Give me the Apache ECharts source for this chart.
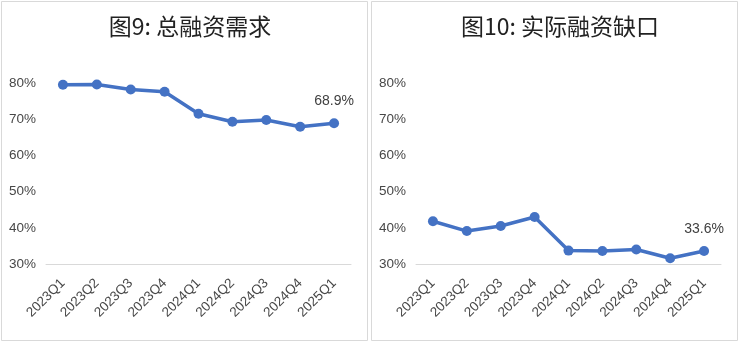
<!DOCTYPE html>
<html>
<head>
<meta charset="utf-8">
<script src="https://cdn.jsdelivr.net/npm/echarts@6/dist/echarts.min.js"></script>
<style>
  html, body { margin: 0; padding: 0; background: #fff; }
  #chart { width: 740px; height: 342px; }
</style>
</head>
<body>
<div id="chart"></div>
<script>
// Quarterly categories shared by both panels
const quarters = ['2023Q1', '2023Q2', '2023Q3', '2023Q4', '2024Q1', '2024Q2', '2024Q3', '2024Q4', '2025Q1'];
// Total financing demand (%)
const totalDemand = [79.5, 79.6, 78.2, 77.6, 71.5, 69.3, 69.8, 67.9, 68.9];
// Actual financing gap (%)
const financingGap = [41.8, 39.1, 40.5, 43.0, 33.7, 33.6, 34.0, 31.6, 33.6];
const titles = ['图9: 总融资需求', '图10: 实际融资缺口'];
const yMin = 30, yMax = 80, yStep = 10;

const blue = '#4472C4';
const labelColor = '#474747';
const cjkFont = '"Noto Sans CJK SC", sans-serif';
const numFont = '"Liberation Sans", sans-serif';

const chart = echarts.init(document.getElementById('chart'));

function yAxis(gridIndex) {
  return {
    gridIndex, type: 'value', min: yMin, max: yMax, interval: yStep,
    axisLine: { show: false }, axisTick: { show: false },
    splitLine: { show: false },
    axisLabel: { formatter: '{value}%', color: labelColor, fontSize: 13.5, margin: 10, fontFamily: numFont }
  };
}
function xAxis(gridIndex) {
  return {
    gridIndex, type: 'category', data: quarters, boundaryGap: true,
    axisLine: { show: true, lineStyle: { color: '#D9D9D9', width: 1 } },
    axisTick: { show: false },
    axisLabel: { rotate: 45, color: labelColor, fontSize: 13.5, margin: 17, fontFamily: numFont, interval: 0 }
  };
}
function series(idx, data) {
  return {
    type: 'line', xAxisIndex: idx, yAxisIndex: idx, data,
    symbol: 'circle', symbolSize: 10,
    lineStyle: { color: blue, width: 3.5 },
    itemStyle: { color: blue },
    label: {
      show: true, position: 'top', distance: 10, color: '#404040', fontSize: 14, fontFamily: numFont,
      formatter: p => p.dataIndex === data.length - 1 ? p.value.toFixed(1) + '%' : ''
    }
  };
}

chart.setOption({
  animation: false,
  backgroundColor: '#fff',
  title: titles.map((t, i) => ({
    text: t, left: 185 + i * 370, top: 10, textAlign: 'center',
    textStyle: { fontSize: 23, fontWeight: 'normal', color: '#222', fontFamily: cjkFont }
  })),
  graphic: [0, 1].map(i => ({
    type: 'rect', shape: { x: 1.5 + i * 370, y: 1.5, width: 366, height: 339 },
    style: { fill: 'none', stroke: '#D9D9D9', lineWidth: 1 }, silent: true
  })),
  grid: [
    { left: 46, top: 83, width: 305, height: 181 },
    { left: 416, top: 83, width: 305, height: 181 }
  ],
  xAxis: [xAxis(0), xAxis(1)],
  yAxis: [yAxis(0), yAxis(1)],
  series: [series(0, totalDemand), series(1, financingGap)]
});
</script>
</body>
</html>
